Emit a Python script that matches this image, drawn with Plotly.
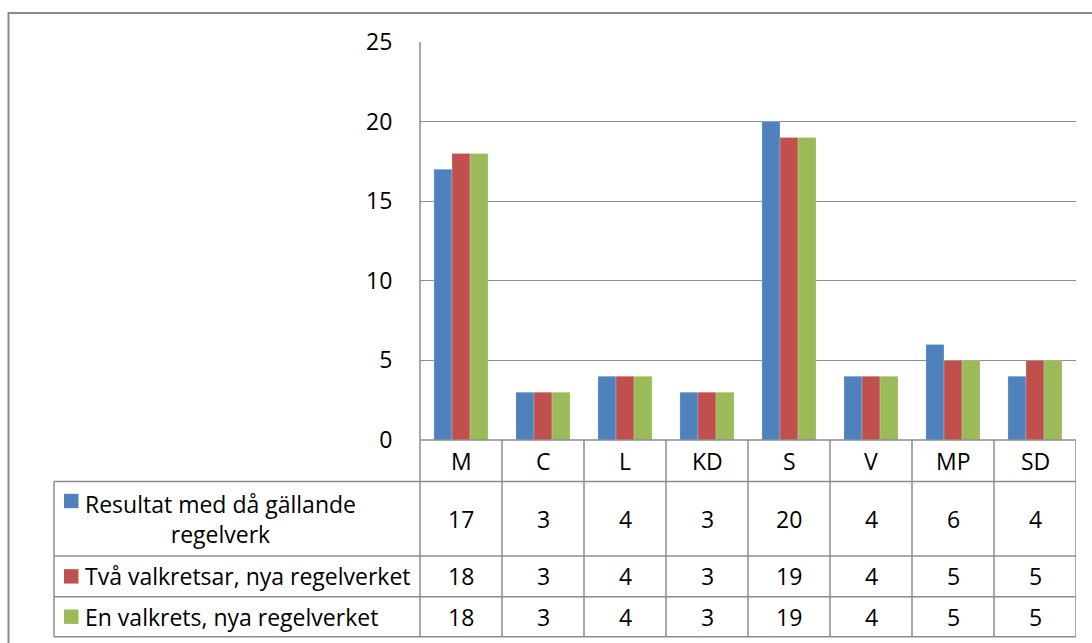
import plotly.graph_objects as go

W, H = 1092, 643

categories = ["M", "C", "L", "KD", "S", "V", "MP", "SD"]
series_names = [
    "Resultat med då gällande<br>regelverk",
    "Två valkretsar, nya regelverket",
    "En valkrets, nya regelverket",
]
resultat = [17, 3, 4, 3, 20, 4, 6, 4]
tva_valkretsar = [18, 3, 4, 3, 19, 4, 5, 5]
en_valkrets = [18, 3, 4, 3, 19, 4, 5, 5]
y_ticks = [0, 5, 10, 15, 20, 25]

colors = ["#4F81BD", "#C0504D", "#9BBB59"]
series_values = [resultat, tva_valkretsar, en_valkrets]

FONT = "Open Sans"
FS = 23
LINE = "#8C8C8C"


def X(px):
    return px / W


def Y(py):
    return 1 - py / H


# layout geometry (pixels)
plot_l, plot_r = 420, 1076
plot_t, plot_b = 42, 440
row_lines = [440, 481.5, 556, 596.7, 636.7]
table_l = 54

fig = go.Figure()
for name, vals, col in zip(series_names, series_values, colors):
    fig.add_trace(go.Bar(
        x=categories, y=vals, name=name.replace("<br>", " "),
        marker=dict(color=col, line=dict(color="rgba(255,255,255,0.35)", width=0.6)),
        showlegend=False,
    ))

shapes = []
# outer chart border
shapes.append(dict(type="rect", xref="paper", yref="paper",
                   x0=X(8.5), x1=X(1100), y0=Y(13), y1=Y(660),
                   line=dict(color="#8A8A8A", width=2), fillcolor="rgba(0,0,0,0)"))
# vertical axis line through table
shapes.append(dict(type="line", xref="paper", yref="paper",
                   x0=X(plot_l), x1=X(plot_l), y0=Y(plot_t), y1=Y(row_lines[-1]),
                   line=dict(color=LINE, width=1.5)))
# x axis / header top line
shapes.append(dict(type="line", xref="paper", yref="paper",
                   x0=X(plot_l), x1=X(plot_r), y0=Y(row_lines[0]), y1=Y(row_lines[0]),
                   line=dict(color=LINE, width=1.5)))
# other horizontal table lines
for ry in row_lines[1:]:
    shapes.append(dict(type="line", xref="paper", yref="paper",
                       x0=X(table_l), x1=X(plot_r), y0=Y(ry), y1=Y(ry),
                       line=dict(color=LINE, width=1.5)))
# left table edge
shapes.append(dict(type="line", xref="paper", yref="paper",
                   x0=X(table_l), x1=X(table_l), y0=Y(row_lines[1]), y1=Y(row_lines[-1]),
                   line=dict(color=LINE, width=1.5)))
# column separators (between categories, plus right edge) using x axis scale
n = len(categories)
for i in range(n):
    shapes.append(dict(type="line", xref="x", yref="paper",
                       x0=i + 0.5, x1=i + 0.5, y0=Y(row_lines[0]), y1=Y(row_lines[-1]),
                       line=dict(color=LINE, width=1.5)))

annotations = []
# header row: category names
hdr_y = (row_lines[0] + row_lines[1]) / 2
for c in categories:
    annotations.append(dict(x=c, y=Y(hdr_y), xref="x", yref="paper", text=c,
                            showarrow=False, font=dict(family=FONT, size=FS, color="black"),
                            xanchor="center", yanchor="middle"))
# data rows
for r, (name, vals, col) in enumerate(zip(series_names, series_values, colors)):
    cy = (row_lines[r + 1] + row_lines[r + 2]) / 2
    for c, v in zip(categories, vals):
        annotations.append(dict(x=c, y=Y(cy), xref="x", yref="paper", text=str(v),
                                showarrow=False, font=dict(family=FONT, size=FS, color="black"),
                                xanchor="center", yanchor="middle"))
    annotations.append(dict(x=X(83), y=Y(cy), xref="paper", yref="paper", text=name,
                            showarrow=False, align="center",
                            font=dict(family=FONT, size=FS, color="black"),
                            xanchor="left", yanchor="middle"))
    # legend key square
    sq_c = cy if "<br>" not in name else row_lines[r + 1] + 19.5
    shapes.append(dict(type="rect", xref="paper", yref="paper",
                       x0=X(64), x1=X(78.5), y0=Y(sq_c - 7.2), y1=Y(sq_c + 7.2),
                       line=dict(width=0), fillcolor=col))

fig.update_layout(
    width=W, height=H,
    margin=dict(l=0, r=0, t=0, b=0, autoexpand=False),
    paper_bgcolor="white", plot_bgcolor="white",
    showlegend=False,
    barmode="group", bargap=0.34, bargroupgap=0,
    shapes=shapes, annotations=annotations,
    font=dict(family=FONT, size=FS, color="black"),
    xaxis=dict(domain=[X(plot_l), X(plot_r)], range=[-0.5, n - 0.5],
               showticklabels=False, showgrid=False, zeroline=False, showline=False,
               automargin=False, fixedrange=True),
    yaxis=dict(domain=[Y(plot_b), Y(plot_t)], range=[0, 25], tickvals=y_ticks,
               showgrid=True, gridcolor="#8C8C8C", gridwidth=1, zeroline=False,
               showline=False, ticks="outside", ticklen=22, tickcolor="rgba(0,0,0,0)",
               tickfont=dict(family=FONT, size=FS, color="black"),
               automargin=False, fixedrange=True),
)

fig.write_html(
    "out.html",
    config={"displayModeBar": False},
    post_script="document.body.style.margin='0';document.body.style.overflow='hidden';",
)
